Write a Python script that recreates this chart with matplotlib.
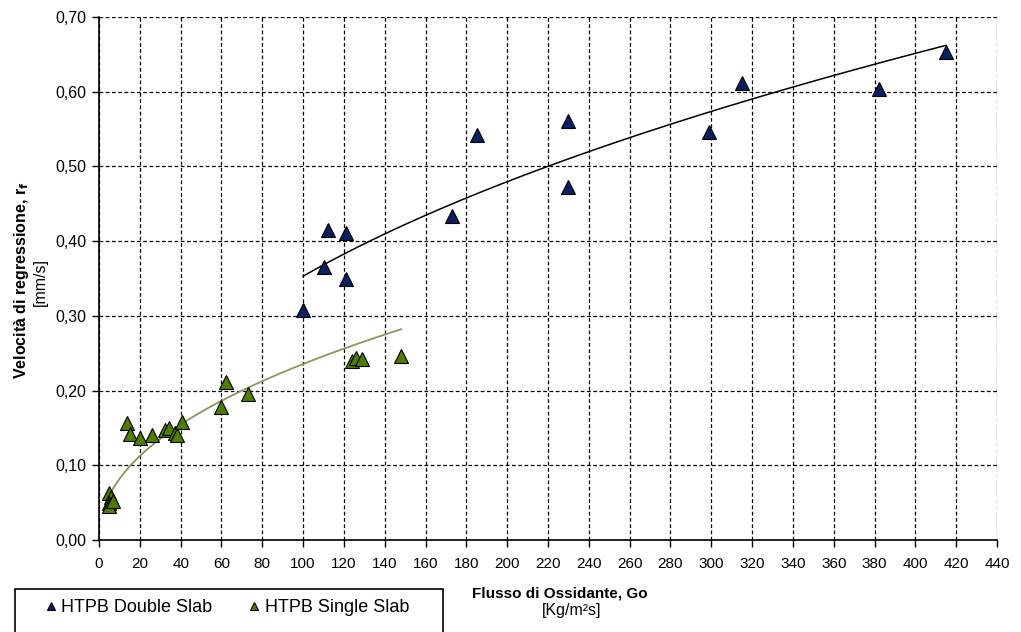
import matplotlib.pyplot as plt
import numpy as np
from matplotlib.patches import Rectangle

plt.rcParams['font.family'] = ['Liberation Sans', 'DejaVu Sans']

# HTPB Double Slab
double_go = [100, 110, 112, 121, 121, 173, 185, 230, 230, 299, 315, 382, 415]
double_rf = [0.308, 0.365, 0.415, 0.411, 0.349, 0.433, 0.542, 0.561, 0.472,
             0.546, 0.612, 0.604, 0.653]

# HTPB Single Slab
single_go = [5, 6, 5, 5, 7, 13.5, 15, 20, 26, 32.5, 34.5, 37, 38, 40.5,
             60, 62, 73, 124, 126, 129, 148]
single_rf = [0.063, 0.057, 0.050, 0.045, 0.052, 0.157, 0.142, 0.136, 0.141,
             0.147, 0.150, 0.143, 0.140, 0.158, 0.178, 0.212, 0.196, 0.239,
             0.244, 0.242, 0.246]

x_ticks = np.arange(0, 441, 20)
y_ticks = np.arange(0, 0.71, 0.1)


def power_trend(x, y):
    """Power-law trendline fitted in log-log space over the data range."""
    n, log_a = np.polyfit(np.log(x), np.log(y), 1)
    xs = np.linspace(min(x), max(x), 200)
    return xs, np.exp(log_a) * xs ** n


fig = plt.figure(figsize=(10.21, 6.32), dpi=100)
ax = fig.add_axes([99 / 1021, 92 / 632, 898 / 1021, 523 / 632])

xs, ys = power_trend(double_go, double_rf)
ax.plot(xs, ys, color='black', lw=1.1, zorder=3)
xs, ys = power_trend(single_go, single_rf)
ax.plot(xs, ys, color='#8f9360', lw=1.3, zorder=3)

ax.plot(double_go, double_rf, ls='none', marker='^', ms=10.5,
        mfc='#0b1f5e', mec='black', mew=0.8, zorder=4,
        label='HTPB Double Slab')
ax.plot(single_go, single_rf, ls='none', marker='^', ms=10.5,
        mfc='#4f7d00', mec='black', mew=0.8, zorder=4,
        label='HTPB Single Slab')

ax.set_xlim(0, 440)
ax.set_ylim(0, 0.70)
ax.set_xticks(x_ticks)
ax.set_yticks(y_ticks)
ax.set_xticklabels([str(v) for v in x_ticks])
ax.set_yticklabels([f'{v:.2f}'.replace('.', ',') for v in y_ticks])
ax.tick_params(direction='out', length=5, width=1, labelsize=11.5, pad=4)
ax.tick_params(axis='x', labelsize=11, pad=7)

ax.grid(True, color='black', ls=(0, (3, 2)), lw=0.9)
ax.set_axisbelow(True)
for side in ('top', 'right'):
    ax.spines[side].set_visible(False)
for side in ('left', 'bottom'):
    ax.spines[side].set_linewidth(1.2)

# axis titles
fig.text(22 / 1021, 1 - 280 / 632, 'Velocità di regressione, r$_\\mathbf{f}$',
         rotation=90, ha='center', va='center', fontsize=11.5, weight='bold')
fig.text(40 / 1021, 1 - 282 / 632, '[mm/s]', rotation=90,
         ha='center', va='center', fontsize=11.5)
fig.text(560 / 1021, 1 - 594 / 632, 'Flusso di Ossidante, Go',
         ha='center', va='center', fontsize=11, weight='bold')
fig.text(572 / 1021, 1 - 611 / 632, '[Kg/m²s]',
         ha='center', va='center', fontsize=11.5)

# legend box
fig.patches.append(Rectangle((15 / 1021, -0.05), 428 / 1021, 0.05 + 43 / 632,
                             transform=fig.transFigure, fill=False,
                             edgecolor='black', lw=1.2))
handles, labels = ax.get_legend_handles_labels()
leg = fig.legend(handles, labels, loc='center left', ncol=2,
                 bbox_to_anchor=(38 / 1021, 1 - 608 / 632), frameon=False,
                 fontsize=13, handlelength=0.6, handletextpad=0.3,
                 columnspacing=2.0, markerscale=0.6, borderaxespad=0)

fig.savefig('out.png', dpi=100)
